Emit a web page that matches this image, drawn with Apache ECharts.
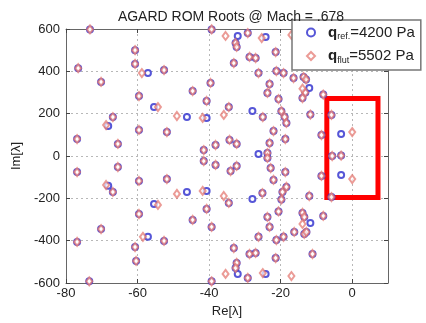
<!DOCTYPE html>
<html><head><meta charset="utf-8">
<script src="https://cdn.jsdelivr.net/npm/echarts@6/dist/echarts.min.js"></script>
<style>html,body{margin:0;padding:0;background:#fff}#c{width:426px;height:323px}</style>
</head><body><div id="c"></div>
<script>
// Roots present (and overlapping) in both cases [Re, Im]
const bothRoots = [
 [-73.3,598],[-60.7,500],[-76.6,415],[-60.7,435],[-52.6,406],[-70.2,350],[-59.6,283],[-66.9,184],
 [-76.9,80],[-65.5,57],[-59.6,123],[-51.8,113],[-39.3,598],[-29.2,581],[-32.6,534],[-32.3,515],
 [-21.4,491],[-33.1,439],[-28.7,468],[-27,463],[-26.2,392],[-21.2,401],[-19.2,392],[-16.4,368],
 [-39.6,345],[-44.6,307],[-23.1,340],[-23.7,298],[-40.7,260],[-20.6,269],[-34.5,231],[-19.8,212],
 [-25,184],[-18.9,184],[-18.4,156],[-13.6,373],[-12.9,362],[-13.1,300],[-13.9,274],[-8.1,290],
 [-11.7,196],[-5.8,194],[-22,118],[-18.7,80],[-38.2,52],[-34.3,76],[-32.3,57],[-23.1,61],
 [-41.5,28],[-23.7,14],[-8.6,99],[-5.6,0],[-3.1,2],[-11.1,463],
 [-23.7,-9],[-41.5,-24],[-38.2,-42],[-22.8,-57],[-32.3,-47],[-34,-71],[-18.7,-76],[-22,-113],
 [-18.4,-146],[-19.5,-170],[-25.1,-175],[-34.5,-222],[-40.7,-250],[-19.8,-205],[-20.6,-262],
 [-44.6,-302],[-23.7,-288],[-39.3,-335],[-23.1,-335],[-26.2,-382],[-21.2,-397],[-19.2,-382],
 [-16.2,-359],[-33.1,-435],[-28.7,-463],[-27,-458],[-21.4,-482],[-32.3,-505],[-32.6,-529],
 [-29.2,-576],[-39.3,-592],[-73.5,-592],[-13.9,-269],[-13.4,-288],[-8.1,-283],[-13.4,-368],
 [-12.8,-359],[-11.1,-463],[-12,-189],[-5.8,-194],[-8.6,-94],[-59.6,-274],[-70.2,-345],
 [-76.9,-406],[-52.6,-401],[-60.7,-430],[-60.4,-496],[-65.5,-52],[-76.9,-76],[-59.6,-118],
 [-51.8,-109],[-66.9,-170]
];
// Roots only visible for q_ref = 4200 Pa
const refOnlyRoots = [
 [-57.1,392],[-55.4,231],[-68.2,142],[-32,567],[-24.2,562],[-27.9,213],[-46.2,184],[-40.7,180],
 [-12,321],[-26.2,9],[-3.1,104],
 [-46.2,-170],[-40.7,-165],[-27.9,-203],[-32,-557],[-24.2,-557],[-11.7,-316],[-3.1,-90],
 [-55.4,-227],[-57.1,-382],[-68.2,-140]
];
// Roots only visible for q_flut = 5502 Pa
const flutOnlyRoots = [
 [-58.8,392],[-54.3,231],[-49,189],[-80.5,142],[-68.8,146],[-35.4,567],[-25.3,557],[-17,572],
 [-41.8,180],[-35.9,194],[-13.9,318],[0,113],
 [-41.8,-165],[-35.9,-189],[-35.4,-557],[-25,-553],[-17,-567],[-13.9,-321],[0,-109],
 [-54.3,-231],[-58.5,-382],[-68.8,-137],[-49,-179],[-80.5,-132]
];
const xTicks = {min:-80, max:10, interval:20};
const yTicks = {min:-600, max:600, interval:200};
const highlightBox = [[-7.1, 272], [7.2, -196]];

const refData = bothRoots.concat(refOnlyRoots);
const flutData = bothRoots.concat(flutOnlyRoots);

const font = '"Liberation Sans", Arial, sans-serif';
const chart = echarts.init(document.getElementById('c'));
const gridLine = {show:true, lineStyle:{color:'#b8b8b8', type:[2,3], width:1}};
chart.setOption({
  animation:false,
  title:{text:'AGARD ROM Roots @ Mach = .678', left:226, textAlign:'center', top:5,
    textStyle:{fontFamily:font, fontSize:14, fontWeight:'normal', color:'#222'}},
  grid:{left:66, right:38, top:29, bottom:40},
  xAxis:[{type:'value', min:xTicks.min, max:xTicks.max, interval:xTicks.interval,
    name:'Re[λ]', nameLocation:'middle', nameGap:22,
    nameTextStyle:{fontFamily:font, fontSize:13, color:'#222'},
    axisLine:{onZero:false, lineStyle:{color:'#666'}}, axisTick:{inside:true, length:4, lineStyle:{color:'#444'}},
    axisLabel:{fontFamily:font, fontSize:13, color:'#222', margin:4, showMaxLabel:false},
    splitLine:gridLine},
   {type:'value', position:'top', min:xTicks.min, max:xTicks.max, interval:xTicks.interval,
    axisLine:{show:true, onZero:false, lineStyle:{color:'#666'}}, axisTick:{inside:true, length:4, lineStyle:{color:'#444'}},
    axisLabel:{show:false}, splitLine:{show:false}}],
  yAxis:[{type:'value', min:yTicks.min, max:yTicks.max, interval:yTicks.interval,
    name:'Im[λ]', nameLocation:'middle', nameGap:33,
    nameTextStyle:{fontFamily:font, fontSize:13, color:'#222'},
    axisLine:{show:true, onZero:false, lineStyle:{color:'#666'}}, axisTick:{show:true, inside:true, length:4, lineStyle:{color:'#444'}},
    axisLabel:{fontFamily:font, fontSize:13, color:'#222', margin:6},
    splitLine:gridLine},
   {type:'value', position:'right', min:yTicks.min, max:yTicks.max, interval:yTicks.interval,
    axisLine:{show:true, onZero:false, lineStyle:{color:'#666'}}, axisTick:{show:true, inside:true, length:4, lineStyle:{color:'#444'}},
    axisLabel:{show:false}, splitLine:{show:false}}],
  legend:{orient:'vertical', left:292, top:20,
    backgroundColor:'#fff', borderColor:'#777', borderWidth:1.5, padding:[5,6,5,14],
    itemGap:7, itemWidth:8, itemHeight:8,
    data:['q_ref','q_flut'],
    formatter:function(n){ return n==='q_ref' ? '{b|q}{s|ref.}{t|=4200 Pa}' : '{b|q}{s|flut}{t|=5502 Pa}'; },
    textStyle:{fontFamily:font, color:'#111', rich:{
      b:{fontFamily:font, fontSize:15, fontWeight:'bold', color:'#222', padding:[0,0,0,8]},
      s:{fontFamily:font, fontSize:9, color:'#222', padding:[9,0,0,0]},
      t:{fontFamily:font, fontSize:15, color:'#222'}}}},
  series:[
    {name:'q_ref', type:'scatter', data:refData, symbol:'emptyCircle', symbolSize:6,
      itemStyle:{color:'#3838d0', borderColor:'#3838d0', borderWidth:1.6, opacity:0.85},
      markArea:{silent:true, itemStyle:{color:'rgba(0,0,0,0)', borderColor:'#ff0000', borderWidth:5},
        data:[[{coord:highlightBox[0]},{coord:highlightBox[1]}]]}},
    {name:'q_flut', type:'scatter', data:flutData, symbol:'emptyDiamond', symbolSize:[6,8],
      itemStyle:{color:'#e2706a', borderColor:'#e2706a', borderWidth:1.5, opacity:0.7}}
  ]
});
</script></body></html>
